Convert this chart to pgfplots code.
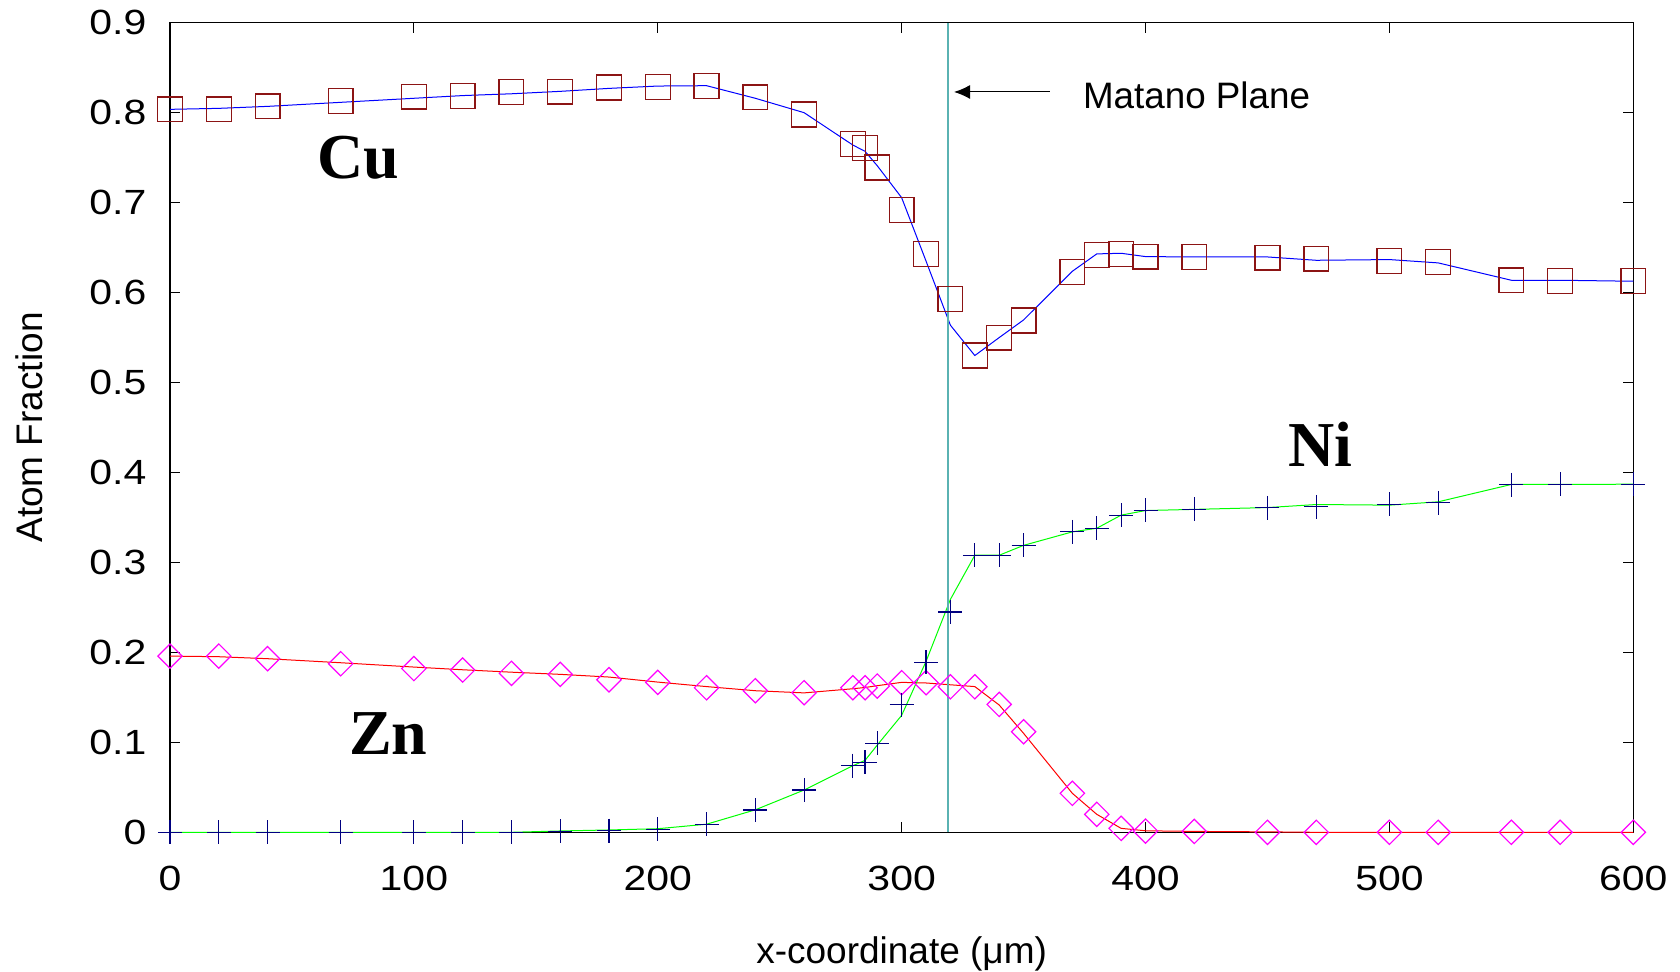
\documentclass[border=0pt]{standalone}
\usepackage{fontspec}
\setmainfont{Liberation Sans}
\newfontfamily\tickfont{Liberation Sans}[FakeStretch=1.17]
\newfontfamily\serifbf{Liberation Serif}
\usepackage{pgfplots}
\pgfplotsset{compat=1.18}
\usetikzlibrary{arrows.meta}
\definecolor{cumark}{RGB}{140,20,20}
\definecolor{nimark}{RGB}{0,0,128}
\definecolor{znmark}{RGB}{255,0,255}
\definecolor{niline}{RGB}{0,255,0}
\definecolor{matano}{RGB}{90,178,178}
\begin{document}
\begin{tikzpicture}
\begin{axis}[
  scale only axis, width=731.65pt, height=404.8pt,
  xmin=0, xmax=600, ymin=0, ymax=0.9,
  clip=false,
  xtick={0,100,200,300,400,500,600},
  xticklabels={0,100,200,300,400,500,600},
  ytick={0,0.1,0.2,0.3,0.4,0.5,0.6,0.7,0.8,0.9},
  yticklabels={0,0.1,0.2,0.3,0.4,0.5,0.6,0.7,0.8,0.9},
  tick align=inside, major tick length=5pt,
  tick style={black, line width=0.6pt},
  axis line style={black, line width=0.6pt},
  tick label style={font=\fontsize{17.5}{20}\tickfont, inner sep=0pt},
  xticklabel style={yshift=-16.5pt},
  yticklabel style={xshift=-11.65pt},
  xlabel={x-coordinate (μm)}, ylabel={Atom Fraction},
  label style={font=\fontsize{18.5}{22}\selectfont, inner sep=0pt},
  xlabel style={at={(axis description cs:0.5,-0.1280)}, anchor=north},
  ylabel style={at={(axis description cs:-0.0866,0.5)}, anchor=south},
]
% Cu measured
\addplot[cumark, only marks, mark=square, mark size=6.2pt, mark options={line width=0.65pt}] coordinates {
(0,0.8037) (20,0.8037) (40,0.807) (70,0.813) (100,0.8177) (120,0.8188) (140,0.8229) (160,0.8233) (180,0.828) (200,0.8288) (220,0.8299) (240,0.817) (260,0.798) (280,0.765) (285,0.761) (290,0.739) (300,0.692) (310,0.643) (320,0.593) (330,0.530) (340,0.550) (350,0.569) (370,0.623) (380,0.642) (390,0.643) (400,0.640) (420,0.6396) (450,0.6389) (470,0.6378) (500,0.635) (520,0.634) (550,0.6137) (570,0.6129) (600,0.6129)};
% Zn measured
\addplot[znmark, only marks, mark=square, mark size=4.3pt, mark options={rotate=45, line width=0.6pt}] coordinates {
(0,0.1959) (20,0.1959) (40,0.193) (70,0.1874) (100,0.182) (120,0.1804) (140,0.1767) (160,0.1756) (180,0.1696) (200,0.1667) (220,0.1607) (240,0.1574) (260,0.1552) (280,0.1607) (285,0.1607) (290,0.1626) (300,0.1663) (310,0.1663) (320,0.1618) (330,0.1618) (340,0.1422) (350,0.1118) (370,0.0433) (380,0.020) (390,0.0044) (400,0.0014) (420,0.001) (450,0) (470,0) (500,0) (520,0) (550,0) (570,0) (600,0)};
% Ni measured
\addplot[nimark, only marks, mark=+, mark size=6pt, mark options={line width=0.6pt}] coordinates {
(0,0) (20,0) (40,0) (70,0) (100,0) (120,0) (140,0) (160,0.001) (180,0.002) (200,0.0035) (220,0.009) (240,0.0248) (260,0.047) (280,0.074) (285,0.0778) (290,0.0989) (300,0.142) (310,0.1889) (320,0.245) (330,0.308) (340,0.308) (350,0.319) (370,0.334) (380,0.3378) (390,0.3526) (400,0.358) (420,0.3589) (450,0.3607) (470,0.3619) (500,0.3648) (520,0.3663) (550,0.3863) (570,0.387) (600,0.387)};
% Cu simulated
\addplot[blue, line width=0.5pt, mark=none] coordinates {
(0,0.8037) (20,0.8048) (40,0.807) (70,0.8115) (100,0.816) (120,0.819) (140,0.821) (160,0.8237) (180,0.827) (200,0.8296) (220,0.830) (240,0.816) (260,0.800) (280,0.764) (285,0.757) (290,0.741) (300,0.7055) (310,0.635) (320,0.5637) (330,0.530) (340,0.550) (350,0.5696) (370,0.6237) (380,0.643) (390,0.6437) (400,0.640) (420,0.6396) (450,0.6396) (470,0.6359) (500,0.6367) (520,0.633) (550,0.6137) (570,0.6137) (600,0.6126)};
% Zn simulated
\addplot[red, line width=0.5pt, mark=none] coordinates {
(0,0.1959) (20,0.1952) (40,0.193) (70,0.1885) (100,0.1837) (120,0.1807) (140,0.178) (160,0.1756) (180,0.1726) (200,0.167) (220,0.162) (240,0.1574) (260,0.155) (280,0.1596) (285,0.161) (290,0.163) (300,0.1667) (310,0.166) (320,0.164) (330,0.162) (340,0.1415) (350,0.110) (370,0.0433) (380,0.020) (390,0.0044) (400,0.0017) (420,0.001) (450,0.0005) (470,0) (500,0) (520,0) (550,0) (570,0) (600,0)};
% Ni simulated
\addplot[niline, line width=0.5pt, mark=none] coordinates {
(0,0) (20,0) (40,0) (70,0) (100,0) (120,0) (140,0) (160,0.0015) (180,0.0026) (200,0.004) (220,0.009) (240,0.025) (260,0.047) (280,0.074) (285,0.080) (290,0.097) (300,0.130) (310,0.19) (320,0.259) (330,0.308) (340,0.308) (350,0.319) (370,0.334) (380,0.338) (390,0.3526) (400,0.3577) (420,0.359) (450,0.361) (470,0.3644) (500,0.3637) (520,0.3674) (550,0.3867) (570,0.3867) (600,0.387)};
% Matano plane
\addplot[matano, line width=0.9pt, mark=none] coordinates {(319,0) (319,0.9)};
\draw[-{Latex[length=8pt,width=7pt]}, line width=0.5pt] (axis cs:360.8,0.823) -- (axis cs:321.5,0.823);
\node[anchor=west, inner sep=0pt, font=\fontsize{18.4}{22}\selectfont] at (axis cs:374.2,0.8195) {Matano Plane};
\node[inner sep=0pt, font={\fontsize{32}{36}\serifbf\bfseries}] at (axis cs:77.1,0.750) {Cu};
\node[inner sep=0pt, font={\fontsize{32}{36}\serifbf\bfseries}] at (axis cs:89.5,0.1094) {Zn};
\node[inner sep=0pt, font={\fontsize{32}{36}\serifbf\bfseries}] at (axis cs:471.7,0.431) {Ni};
\end{axis}
\pgfresetboundingbox
\path[use as bounding box] (-85pt,-69.35pt) rectangle (755pt,416.15pt);
\end{tikzpicture}
\end{document}
